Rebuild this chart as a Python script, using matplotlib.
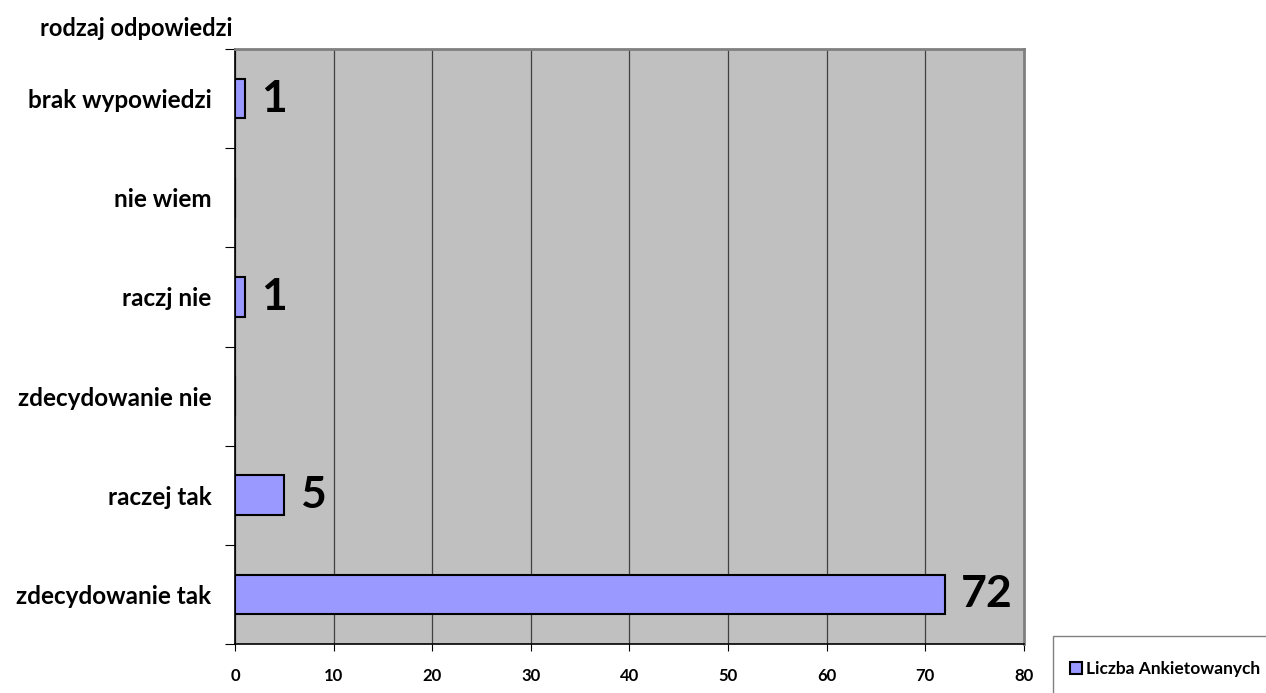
import matplotlib.pyplot as plt
from matplotlib.patches import Rectangle
import numpy as np

plt.rcParams['font.family'] = ['Lato', 'DejaVu Sans']
plt.rcParams['font.weight'] = 'bold'

categories = ['zdecydowanie tak', 'raczej tak', 'zdecydowanie nie',
              'raczj nie', 'nie wiem', 'brak wypowiedzi']
values = [72, 5, 0, 1, 0, 1]
series_name = 'Liczba Ankietowanych'
x_ticks = [0, 10, 20, 30, 40, 50, 60, 70, 80]

fig = plt.figure(figsize=(12.66, 6.93), dpi=100)
ax = fig.add_axes([0.1856, 0.0707, 0.6232, 0.8586])
ax.set_facecolor('#c0c0c0')

pos = np.arange(len(categories))
bars = ax.barh(pos, values, height=0.4, color='#9999ff', edgecolor='black',
               linewidth=1.5, label=series_name, zorder=3)

for p, v in zip(pos, values):
    if v > 0:
        ax.text(v + 1.6, p, str(v), va='center', ha='left', fontsize=32,
                fontweight='bold', zorder=4)

ax.set_xlim(0, 80)
ax.set_ylim(-0.5, len(categories) - 0.5)
ax.set_xticks(x_ticks)
ax.set_xticklabels([str(t) for t in x_ticks], fontsize=12, fontweight='bold')
ax.xaxis.grid(True, color='#404040', linewidth=0.9, zorder=1)
ax.set_axisbelow(True)

# category labels at centres, ticks at boundaries
ax.set_yticks(np.arange(-0.5, len(categories), 1.0))
ax.set_yticklabels([])
ax.set_yticks(pos, minor=True)
ax.set_yticklabels(categories, minor=True, fontsize=17.5, fontweight='bold')
ax.tick_params(axis='y', which='minor', length=0, pad=17)
ax.tick_params(axis='y', which='major', length=7, width=0.8, direction='out')
ax.tick_params(axis='x', length=5, width=0.8, direction='out', pad=12)

for s in ['top', 'right']:
    ax.spines[s].set_color('#808080')
    ax.spines[s].set_linewidth(2)
for s in ['left', 'bottom']:
    ax.spines[s].set_color('black')
    ax.spines[s].set_linewidth(1.2)

fig.text(40 / 1266, 1 - 28 / 693, 'rodzaj odpowiedzi', fontsize=17,
         fontweight='bold', va='center', ha='left')

# legend box at bottom right
fig.patches.append(Rectangle((1053 / 1266, -0.05), 0.2, (693 - 636) / 693 + 0.05,
                             transform=fig.transFigure, facecolor='white',
                             edgecolor='#808080', linewidth=1))
leg = fig.legend(handles=[bars], labels=[series_name], loc='center left',
                 bbox_to_anchor=(1070 / 1266, 1 - 669 / 693), frameon=False,
                 fontsize=12.5, handlelength=0.7, handleheight=0.7,
                 handletextpad=0.2, borderaxespad=0, borderpad=0)
for t in leg.get_texts():
    t.set_fontweight('bold')

fig.savefig('out.png', dpi=100)
